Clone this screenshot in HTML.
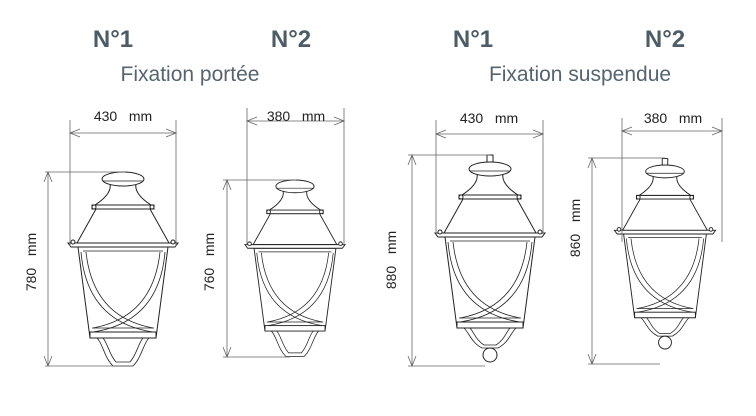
<!DOCTYPE html>
<html><head><meta charset="utf-8"><style>
body{margin:0;background:#fff;width:756px;height:416px;overflow:hidden}
svg{display:block}
.h{font-family:"Liberation Sans",sans-serif;font-weight:bold;font-size:24px;fill:#4d5c66}
.s{font-family:"Liberation Sans",sans-serif;font-size:21px;fill:#55646e}
.d{font-family:"Liberation Sans",sans-serif;font-size:14px;fill:#222}
.dl{stroke:#666;stroke-width:0.8;fill:none}
.l{stroke:#222;stroke-width:1;fill:#fff}
.n{stroke:#222;stroke-width:0.8;fill:none}
</style></head><body>
<svg width="756" height="416" viewBox="0 0 756 416">
<defs>
<g id="lan">
  <polygon class="l" points="-45,75 45,75 33,166 -33,166"/>
  <line class="n" x1="-40" y1="79" x2="40" y2="79"/>
  <path class="n" d="M-42,80 Q-36,150 30,160 M-37,80 Q-30,145 30,156"/>
  <path class="n" d="M42,80 Q36,150 -30,160 M37,80 Q30,145 -30,156"/>
  <line class="n" x1="-31" y1="156" x2="31" y2="156"/>
  <rect class="l" x="-33" y="160" width="66" height="6"/>
  <polygon class="l" points="-27,37 27,37 46,71 -46,71"/>
  <polygon class="l" points="-55,71 55,71 52,75 -52,75"/>
  <rect class="l" x="-31" y="33" width="62" height="4"/>
  <path class="l" d="M-13,12 Q-11,22 -28,33 L28,33 Q11,22 13,12 Z"/>
  <ellipse class="l" cx="0" cy="7" rx="21" ry="7"/>
  <line class="n" x1="-20" y1="9" x2="20" y2="9"/>
  <circle class="l" cx="-29" cy="35" r="2"/><circle class="l" cx="29" cy="35" r="2"/>
  <circle class="l" cx="-50" cy="70" r="2"/><circle class="l" cx="50" cy="70" r="2"/>
</g>
<g id="br1">
  <path class="n" d="M-26,166 C-20,172 -19,185 -10,194 L10,194 C19,185 20,172 26,166"/>
  <path class="n" d="M-20,166 C-15,172 -14,182 -7,190 L7,190 C14,182 15,172 20,166"/>
</g>
<g id="br2">
  <path class="n" d="M-26,166 C-20,172 -19,180 -8,186 L8,186 C19,180 20,172 26,166"/>
  <path class="n" d="M-20,166 C-15,172 -14,178 -6,183 L6,183 C14,178 15,172 20,166"/>
  <circle class="l" cx="0" cy="193" r="7"/>
  <rect class="l" x="-3" y="-7" width="6" height="7"/>
</g>
</defs>

<text class="h" x="113" y="47" text-anchor="middle">N°1</text>
<text class="h" x="291" y="47" text-anchor="middle">N°2</text>
<text class="h" x="473" y="47" text-anchor="middle">N°1</text>
<text class="h" x="665" y="47" text-anchor="middle">N°2</text>
<text class="s" x="190" y="81" text-anchor="middle">Fixation portée</text>
<text class="s" x="580" y="81" text-anchor="middle">Fixation suspendue</text>

<!-- Lantern 1 -->
<g transform="translate(123,172)"><use href="#lan"/><use href="#br1"/></g>
<g class="dl">
 <path d="M70,120 V246 M176,120 V246 M70,133 H176 M80,129 L70,133 L80,137 M166,129 L176,133 L166,137"/>
 <path d="M45,172 H125 M45,366 H120 M48,172 V366 M44,182 L48,172 L52,182 M44,356 L48,366 L52,356"/>
</g>
<text class="d" x="123" y="121" text-anchor="middle">430 &#160; mm</text>
<text class="d" transform="translate(36,262) rotate(-90)" text-anchor="middle">780 &#160; mm</text>

<!-- Lantern 2 -->
<g transform="translate(295,180) scale(0.91)"><use href="#lan"/><use href="#br1"/></g>
<g class="dl">
 <path d="M247,108 V245 M344,108 V245 M247,121 H344 M257,117 L247,121 L257,125 M334,117 L344,121 L334,125"/>
 <path d="M223,180 H296 M223,357 H290 M227,180 V357 M223,190 L227,180 L231,190 M223,347 L227,357 L231,347"/>
</g>
<text class="d" x="296" y="121" text-anchor="middle">380 &#160; mm</text>
<text class="d" transform="translate(214,262) rotate(-90)" text-anchor="middle">760 &#160; mm</text>

<!-- Lantern 3 -->
<g transform="translate(490,162)"><use href="#lan"/><use href="#br2"/></g>
<g class="dl">
 <path d="M436,120 V232 M543,120 V232 M436,134 H543 M446,130 L436,134 L446,138 M533,130 L543,134 L533,138"/>
 <path d="M408,155 H490 M408,366 H485 M412,155 V366 M408,165 L412,155 L416,165 M408,356 L412,366 L416,356"/>
</g>
<text class="d" x="489" y="123" text-anchor="middle">430 &#160; mm</text>
<text class="d" transform="translate(396,260) rotate(-90)" text-anchor="middle">880 &#160; mm</text>

<!-- Lantern 4 -->
<g transform="translate(665,165) scale(0.92)"><use href="#lan"/><use href="#br2"/></g>
<g class="dl">
 <path d="M622,118 V242 M722,118 V242 M622,131 H722 M632,127 L622,131 L632,135 M712,127 L722,131 L712,135"/>
 <path d="M588,158 H665 M588,364 H660 M592,158 V364 M588,168 L592,158 L596,168 M588,354 L592,364 L596,354"/>
</g>
<text class="d" x="673" y="123" text-anchor="middle">380 &#160; mm</text>
<text class="d" transform="translate(580,228) rotate(-90)" text-anchor="middle">860 &#160; mm</text>
</svg>
</body></html>
